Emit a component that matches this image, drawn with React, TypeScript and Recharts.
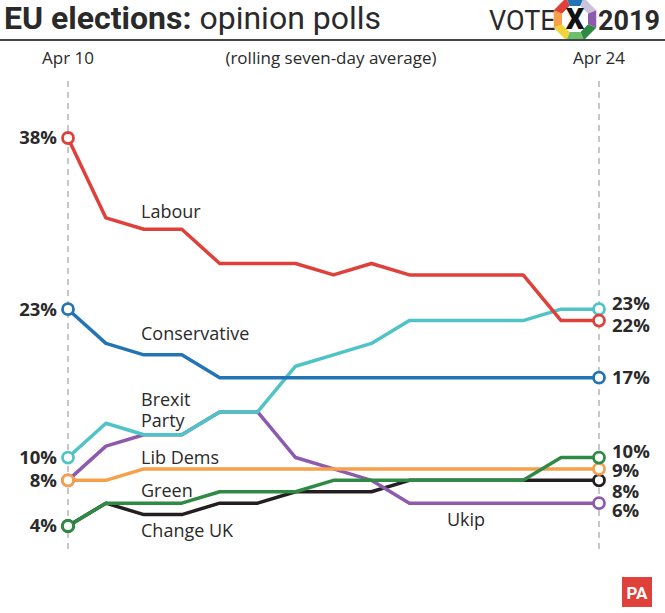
import React from "react";
import { LineChart, Line, XAxis, YAxis, ReferenceLine } from "recharts";

const DATES = [
  "Apr 10", "Apr 11", "Apr 12", "Apr 13", "Apr 14", "Apr 15", "Apr 16", "Apr 17",
  "Apr 18", "Apr 19", "Apr 20", "Apr 21", "Apr 22", "Apr 23", "Apr 24",
];

const LABOUR = [38, 31, 30, 30, 27, 27, 27, 26, 27, 26, 26, 26, 26, 22, 22];
const CONSERVATIVE = [23, 20, 19, 19, 17, 17, 17, 17, 17, 17, 17, 17, 17, 17, 17];
const BREXIT = [10, 13, 12, 12, 14, 14, 18, 19, 20, 22, 22, 22, 22, 23, 23];
const UKIP = [8, 11, 12, 12, 14, 14, 10, 9, 8, 6, 6, 6, 6, 6, 6];
const LIB_DEMS = [8, 8, 9, 9, 9, 9, 9, 9, 9, 9, 9, 9, 9, 9, 9];
const GREEN = [4, 6, 6, 6, 7, 7, 7, 8, 8, 8, 8, 8, 8, 10, 10];
const CHANGE_UK = [4, 6, 5, 5, 6, 6, 7, 7, 7, 8, 8, 8, 8, 8, 8];

const data = DATES.map((date, i) => ({
  date,
  labour: LABOUR[i],
  conservative: CONSERVATIVE[i],
  brexit: BREXIT[i],
  ukip: UKIP[i],
  libdems: LIB_DEMS[i],
  green: GREEN[i],
  changeuk: CHANGE_UK[i],
}));

// drawing order: first is at the bottom
const SERIES = [
  { key: "changeuk", color: "#231f20", left: false, nudge: 11 },
  { key: "ukip", color: "#8d5aae", left: false, nudge: 7 },
  { key: "libdems", color: "#f6a04a", left: true, nudge: 2 },
  { key: "green", color: "#2f8a45", left: true, nudge: -6 },
  { key: "brexit", color: "#4fc3c6", left: true, nudge: -6 },
  { key: "conservative", color: "#2374b5", left: true, nudge: 0 },
  { key: "labour", color: "#e0403a", left: true, nudge: 5 },
];

const FONT = "'Open Sans', sans-serif";
const INK = "#2a2a2a";
const LAST = DATES.length - 1;

function makeDot(s: (typeof SERIES)[number]) {
  return (props: any) => {
    const { cx, cy, index, payload } = props;
    if (index !== 0 && index !== LAST) return <g key={`d-${s.key}-${index}`} />;
    const v = payload[s.key];
    const isLeft = index === 0;
    return (
      <g key={`d-${s.key}-${index}`}>
        <circle cx={cx} cy={cy} r={5.5} fill="#fff" stroke={s.color} strokeWidth={2.8} />
        {isLeft && s.left && (
          <text x={cx - 11} y={cy} dy="0.35em" textAnchor="end" fontFamily={FONT}
            fontWeight={700} fontSize={18.5} fill={INK}>
            {v}%
          </text>
        )}
        {!isLeft && (
          <text x={cx + 13} y={cy + s.nudge} dy="0.35em" textAnchor="start" fontFamily={FONT}
            fontWeight={700} fontSize={18.5} fill={INK}>
            {v}%
          </text>
        )}
      </g>
    );
  };
}

function Logo() {
  // octagon ring of the VOTE 2019 badge
  const cx = 575, cy = 19, R = 23, r = 14;
  const cols = ["#2374b5", "#c9c3dc", "#8d5aae", "#2f8a45", "#6cbf6a", "#f2d43a", "#f6a04a", "#e0403a"];
  const pt = (rad: number, k: number) => {
    const a = ((k * 45 - 112.5) * Math.PI) / 180;
    return `${cx + rad * Math.cos(a)},${cy + rad * Math.sin(a)}`;
  };
  return (
    <g>
      {cols.map((c, k) => (
        <polygon key={k} fill={c}
          points={`${pt(R, k)} ${pt(R, k + 1)} ${pt(r, k + 1)} ${pt(r, k)}`} />
      ))}
      <polygon fill="#fff" points={cols.map((_, k) => pt(r, k)).join(" ")} />
      <text x={cx} y={cy + 10} textAnchor="middle" fontFamily="Roboto, sans-serif"
        fontWeight={900} fontSize={29} fill="#111">X</text>
    </g>
  );
}

export default function App() {
  return (
    <div style={{ position: "relative", width: 665, height: 613, background: "#fff" }}>
      <style>{`body{margin:0}`}</style>
      <div style={{ position: "absolute", left: 0, top: 0 }}>
        <LineChart width={665} height={613} data={data}
          margin={{ top: 138, right: 66, bottom: 87, left: 68 }}>
          <XAxis dataKey="date" hide />
          <YAxis type="number" domain={[4, 38]} hide />
          {["Apr 10", "Apr 24"].map((d) => (
            <ReferenceLine key={d} ifOverflow="visible" stroke="#b5b5b5" strokeWidth={1.5}
              strokeDasharray="6 5"
              segment={[{ x: d, y: 43 }, { x: d, y: 1.8 }]} />
          ))}
          {SERIES.map((s) => (
            <Line key={s.key} type="linear" dataKey={s.key} stroke={s.color} strokeWidth={3.5}
              strokeLinejoin="round" dot={makeDot(s)} activeDot={false}
              isAnimationActive={false} />
          ))}
        </LineChart>
      </div>
      <svg width={665} height={613} style={{ position: "absolute", left: 0, top: 0, pointerEvents: "none" }}>
        <text x={4} y={29} fontFamily="Roboto, sans-serif" fontSize={32} fill={INK}>
          <tspan fontWeight={700}>EU elections:</tspan>
          <tspan fontWeight={400}> opinion polls</tspan>
        </text>
        <text x={489} y={30} fontFamily="Roboto, sans-serif" fontSize={27} fill={INK}>VOTE</text>
        <text x={598} y={30} fontFamily="Roboto, sans-serif" fontWeight={700} fontSize={27} fill={INK}>2019</text>
        <Logo />
        <rect x={0} y={39} width={665} height={2} fill="#444" />
        <g fontFamily={FONT} fontSize={17} fill={INK} textAnchor="middle">
          <text x={68} y={64}>Apr 10</text>
          <text x={331} y={64}>(rolling seven-day average)</text>
          <text x={599} y={64}>Apr 24</text>
        </g>
        <g fontFamily={FONT} fontSize={18} fill={INK}>
          <text x={141} y={218}>Labour</text>
          <text x={141} y={340}>Conservative</text>
          <text x={141} y={406}>Brexit</text>
          <text x={141} y={427}>Party</text>
          <text x={141} y={464}>Lib Dems</text>
          <text x={141} y={497}>Green</text>
          <text x={141} y={537}>Change UK</text>
          <text x={447} y={526}>Ukip</text>
        </g>
        <rect x={622} y={577} width={30} height={30} fill="#e0403a" />
        <text x={637} y={599} textAnchor="middle" fontFamily="Roboto, sans-serif" fontWeight={700}
          fontSize={17} fill="#fff">PA</text>
      </svg>
    </div>
  );
}
